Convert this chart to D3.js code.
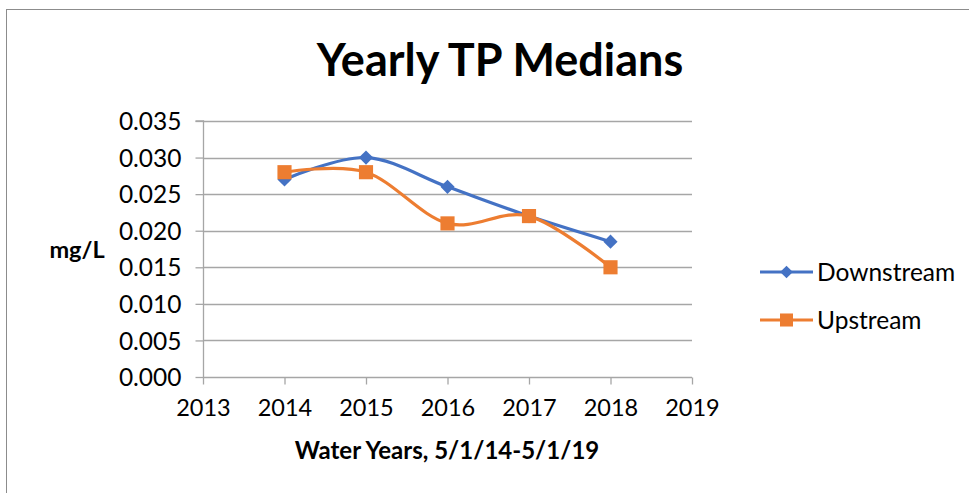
<!DOCTYPE html>
<html><head><meta charset="utf-8">
<script src="https://cdn.jsdelivr.net/npm/d3@7"></script>
<style>body{margin:0;background:#fff}svg{display:block}text{font-family:Lato,"Open Sans",sans-serif;fill:#000}</style>
</head><body><svg id="c" width="969" height="493"></svg>
<script>
const years = [2014, 2015, 2016, 2017, 2018];
const downstream = [0.027, 0.030, 0.026, 0.022, 0.0185];
const upstream = [0.028, 0.028, 0.021, 0.022, 0.015];
const xTicks = [2013, 2014, 2015, 2016, 2017, 2018, 2019];
const yTicks = [0, 0.005, 0.010, 0.015, 0.020, 0.025, 0.030, 0.035];
const seriesNames = ["Downstream", "Upstream"];
const colors = ["#4472C4", "#ED7D31"];

const svg = d3.select("#c");
svg.append("rect").attr("x",6.5).attr("y",9.5).attr("width",1000).attr("height",1000)
  .attr("fill","#fff").attr("stroke","#8c8c8c").attr("stroke-width",1);

const L=203, R=692, T=121, B=377;
const x = d3.scaleLinear().domain([2013,2019]).range([L,R]);
const y = d3.scaleLinear().domain([0,0.035]).range([B,T]);

// gridlines
svg.append("g").selectAll("line").data(yTicks.filter(d=>d>0)).join("line")
  .attr("x1",L).attr("x2",R).attr("y1",d=>Math.round(y(d))+0.5).attr("y2",d=>Math.round(y(d))+0.5)
  .attr("stroke","#a6a6a6").attr("stroke-width",1.3);

// y axis
const ya = svg.append("g").attr("transform",`translate(${L+0.5},0)`)
  .call(d3.axisLeft(y).tickValues(yTicks).tickFormat(d3.format(".3f")).tickSize(8).tickPadding(14));
ya.select(".domain").attr("stroke","#a6a6a6").attr("stroke-width",1.3).attr("d",`M-8,${T}H0V${B}`);
ya.selectAll(".tick line").attr("stroke","#a6a6a6").attr("stroke-width",1.3);
ya.selectAll(".tick text").attr("font-size",24.5).attr("font-family","Lato").attr("fill","#000").attr("dy","0.35em");

// x axis
const xa = svg.append("g").attr("transform",`translate(0,${B+0.5})`)
  .call(d3.axisBottom(x).tickValues(xTicks).tickFormat(d3.format("d")).tickSize(7).tickPadding(15));
xa.select(".domain").attr("stroke","#a6a6a6").attr("stroke-width",1.3).attr("d",`M${L},0H${R}`);
xa.selectAll(".tick line").attr("stroke","#a6a6a6").attr("stroke-width",1.3);
xa.selectAll(".tick text").attr("font-size",23.5).attr("font-family","Lato").attr("fill","#000");

// lines
const line = d3.line().x((d,i)=>x(years[i])).y(d=>y(d)).curve(d3.curveCardinal.tension(0));
[downstream, upstream].forEach((s,k)=>{
  svg.append("path").attr("d",line(s)).attr("fill","none").attr("stroke",colors[k])
    .attr("stroke-width",3.2).attr("stroke-linecap","round");
});
svg.append("g").selectAll("path").data(downstream).join("path")
  .attr("transform",(d,i)=>`translate(${x(years[i])},${y(d)}) rotate(45)`)
  .attr("d",d3.symbol().type(d3.symbolSquare).size(100)).attr("fill",colors[0]);
svg.append("g").selectAll("path").data(upstream).join("path")
  .attr("transform",(d,i)=>`translate(${x(years[i])},${y(d)})`)
  .attr("d",d3.symbol().type(d3.symbolSquare).size(200)).attr("fill",colors[1]);

// titles
svg.append("text").attr("x",500).attr("y",76).attr("text-anchor","middle")
  .attr("font-size",45).attr("font-weight","bold").text("Yearly TP Medians");
svg.append("text").attr("x",447).attr("y",459).attr("text-anchor","middle")
  .attr("font-size",24).attr("font-weight","bold").text("Water Years, 5/1/14-5/1/19");
svg.append("text").attr("x",77).attr("y",258).attr("text-anchor","middle")
  .attr("font-size",23.5).attr("font-weight","bold").text("mg/L");

// legend
const lg = svg.append("g");
seriesNames.forEach((n,k)=>{
  const ly = 272 + k*48;
  lg.append("line").attr("x1",760).attr("x2",813).attr("y1",ly).attr("y2",ly)
    .attr("stroke",colors[k]).attr("stroke-width",3.2);
  lg.append("path").attr("transform",`translate(786.5,${ly})`+(k===0?" rotate(45)":""))
    .attr("d",k===0?d3.symbol().type(d3.symbolSquare).size(80):d3.symbol().type(d3.symbolSquare).size(170))
    .attr("fill",colors[k]);
  lg.append("text").attr("x",817).attr("y",ly+9).attr("font-size",24.5).text(n);
});
</script></body></html>
